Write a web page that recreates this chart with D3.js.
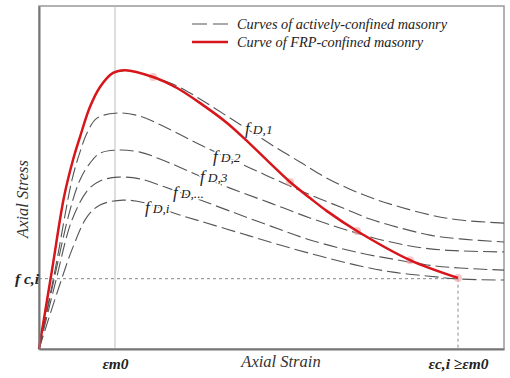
<!DOCTYPE html>
<html>
<head>
<meta charset="utf-8">
<script src="https://cdn.jsdelivr.net/npm/d3@7"></script>
<style>
  body { margin: 0; background: #fff; }
  svg { display: block; }
  svg text { font-family: "Liberation Serif", "Times New Roman", serif; }
  .axis-label { font-style: italic; font-size: 16.5px; fill: #333; }
  .tick-label { font-style: italic; font-weight: bold; font-size: 15.5px; fill: #222; }
  .curve-label { font-style: italic; fill: #222; stroke: #fff; stroke-width: 3px; paint-order: stroke; }
  .legend-text { font-style: italic; font-size: 14.3px; fill: #222; }
</style>
</head>
<body>
<svg id="chart"></svg>
<script>
// strain is given in multiples of eps_m0, stress as a fraction of the plotted height
const strainMax = 6.118;
const stressMax = 1;

const xTickValues = [1, 5.513];
const xTickLabels = ['\u03B5m0', '\u03B5c,i \u2265\u03B5m0'];
const yTickValues = [0.205];
const yTickLabels = ['f c,i'];

// FRP-confined curve (strain, stress)
const frpCurve = [
  [0, 0], [0.171, 0.230], [0.329, 0.443], [0.447, 0.551], [0.539, 0.618],
  [0.671, 0.706], [0.803, 0.764], [0.974, 0.805], [1.132, 0.813], [1.500, 0.793],
  [1.816, 0.761], [2.158, 0.711], [2.474, 0.659], [2.776, 0.598], [3.039, 0.542],
  [3.303, 0.487], [3.566, 0.440], [3.789, 0.402], [4.184, 0.344], [4.882, 0.259],
  [5.513, 0.207]
];
// points where the FRP curve passes onto the next active curve
const transitionPoints = [[1.500, 0.793], [3.303, 0.487], [4.184, 0.344], [4.882, 0.259], [5.513, 0.207]];

// actively-confined curves
const curveD1 = [
  [0, 0], [0.171, 0.230], [0.329, 0.443], [0.447, 0.551], [0.539, 0.618],
  [0.671, 0.706], [0.803, 0.764], [0.974, 0.805], [1.132, 0.813], [1.500, 0.793],
  [1.816, 0.767], [2.118, 0.729], [2.474, 0.679], [2.776, 0.636], [3.105, 0.589],
  [3.434, 0.545], [3.763, 0.501], [4.092, 0.466], [4.421, 0.437], [4.750, 0.414],
  [5.145, 0.391], [5.539, 0.376], [6.118, 0.367]
];
const curveD2 = [
  [0, 0], [0.211, 0.230], [0.434, 0.493], [0.539, 0.574], [0.632, 0.630],
  [0.763, 0.673], [1.039, 0.688], [1.329, 0.679], [1.658, 0.647], [2.026, 0.606],
  [2.382, 0.568], [2.776, 0.528], [3.211, 0.484], [3.605, 0.446], [4.000, 0.411],
  [4.355, 0.379], [4.750, 0.353], [5.145, 0.332], [5.539, 0.321], [6.118, 0.312]
];
const curveD3 = [
  [0, 0], [0.211, 0.216], [0.408, 0.405], [0.539, 0.493], [0.671, 0.542],
  [0.803, 0.571], [1.039, 0.580], [1.329, 0.574], [1.658, 0.548], [2.053, 0.510],
  [2.513, 0.469], [3.039, 0.426], [3.566, 0.382], [3.961, 0.353], [4.355, 0.327],
  [4.750, 0.306], [5.145, 0.292], [5.539, 0.286], [6.118, 0.283]
];
const curveDn = [
  [0, 0], [0.224, 0.201], [0.434, 0.376], [0.645, 0.464], [0.803, 0.490],
  [1.039, 0.501], [1.329, 0.496], [1.658, 0.472], [2.053, 0.440], [2.513, 0.402],
  [3.039, 0.359], [3.566, 0.318], [4.224, 0.280], [4.658, 0.262], [5.105, 0.245],
  [5.539, 0.236], [6.118, 0.230]
];
const curveDi = [
  [0, 0], [0.250, 0.172], [0.447, 0.297], [0.632, 0.385], [0.803, 0.420],
  [1.105, 0.434], [1.395, 0.426], [1.763, 0.397], [2.118, 0.373], [2.645, 0.338],
  [3.171, 0.303], [3.697, 0.271], [4.224, 0.242], [4.658, 0.224], [5.105, 0.213],
  [5.539, 0.204], [6.118, 0.201]
];
const activeCurves = [curveD1, curveD2, curveD3, curveDn, curveDi];
const curveSubscripts = ['D,1', 'D,2', 'D,3', 'D,...', 'D,i'];
const labelAnchors = [[2.711, 0.627], [2.289, 0.545], [2.118, 0.487], [1.763, 0.440], [1.395, 0.397]];

const legendLabels = ['Curves of actively-confined masonry', 'Curve of FRP-confined masonry'];

const config = {
  width: 510, height: 378,
  margin: {top: 6, right: 6, bottom: 29, left: 39},
  red: '#d7161c',
  gray: '#555'
};

const innerW = config.width - config.margin.left - config.margin.right;
const innerH = config.height - config.margin.top - config.margin.bottom;

const svg = d3.select('#chart')
    .attr('width', config.width)
    .attr('height', config.height);

const chart = svg.append('g')
    .attr('transform', `translate(${config.margin.left},${config.margin.top})`);

const xScale = d3.scaleLinear().domain([0, strainMax]).range([0, innerW]);
const yScale = d3.scaleLinear().domain([0, stressMax]).range([innerH, 0]);

const line = d3.line()
    .x(d => xScale(d[0]))
    .y(d => yScale(d[1]))
    .curve(d3.curveCatmullRom.alpha(0.5));

// frame
chart.append('rect')
    .attr('width', innerW)
    .attr('height', innerH)
    .attr('fill', 'none')
    .attr('stroke', '#999')
    .attr('stroke-width', 1.5);

// eps_m0 reference line
chart.append('line')
    .attr('x1', xScale(xTickValues[0])).attr('x2', xScale(xTickValues[0]))
    .attr('y1', 0).attr('y2', innerH)
    .attr('stroke', '#bdbdbd')
    .attr('stroke-width', 1);

// fc,i and eps_c,i guide lines
chart.append('line')
    .attr('x1', 0).attr('x2', xScale(xTickValues[1]))
    .attr('y1', yScale(yTickValues[0])).attr('y2', yScale(yTickValues[0]))
    .attr('stroke', '#888')
    .attr('stroke-dasharray', '3,3');

chart.append('line')
    .attr('x1', xScale(xTickValues[1])).attr('x2', xScale(xTickValues[1]))
    .attr('y1', yScale(yTickValues[0])).attr('y2', innerH)
    .attr('stroke', '#888')
    .attr('stroke-dasharray', '3,3');

// active curves
chart.selectAll('.active-curve')
    .data(activeCurves)
  .join('path')
    .attr('class', 'active-curve')
    .attr('d', line)
    .attr('fill', 'none')
    .attr('stroke', config.gray)
    .attr('stroke-width', 1.1)
    .attr('stroke-dasharray', '14,5');

// curve labels
const labels = chart.selectAll('.curve-label')
    .data(curveSubscripts)
  .join('text')
    .attr('class', 'curve-label')
    .attr('x', (d, i) => xScale(labelAnchors[i][0]))
    .attr('y', (d, i) => yScale(labelAnchors[i][1]));

labels.append('tspan').attr('font-size', '17px').text('f');
labels.append('tspan').attr('font-size', '13.5px').attr('dx', 3).text(d => d);

// transition markers
chart.selectAll('.marker')
    .data(transitionPoints)
  .join('circle')
    .attr('class', 'marker')
    .attr('cx', d => xScale(d[0]))
    .attr('cy', d => yScale(d[1]))
    .attr('r', 4)
    .attr('fill', '#f2a3a3')
    .attr('opacity', 0.6);

// FRP curve
chart.append('path')
    .datum(frpCurve)
    .attr('d', line)
    .attr('fill', 'none')
    .attr('stroke', config.red)
    .attr('stroke-width', 2.5);

// axes
const xAxis = d3.axisBottom(xScale)
    .tickValues(xTickValues)
    .tickFormat((d, i) => xTickLabels[i])
    .tickSize(0)
    .tickPadding(9);

const yAxis = d3.axisLeft(yScale)
    .tickValues(yTickValues)
    .tickFormat((d, i) => yTickLabels[i])
    .tickSize(0)
    .tickPadding(0);

chart.append('g')
    .attr('class', 'axis x-axis')
    .attr('transform', `translate(0,${innerH})`)
    .call(xAxis);

chart.append('g')
    .attr('class', 'axis y-axis')
    .call(yAxis);

chart.selectAll('.axis')
    .attr('font-family', null)
    .attr('font-size', null);
chart.selectAll('.axis .domain')
    .attr('stroke', '#777')
    .attr('stroke-width', 2);
chart.selectAll('.axis text').attr('class', 'tick-label');

// axis titles
chart.append('text')
    .attr('class', 'axis-label')
    .attr('x', 242)
    .attr('y', innerH + 18)
    .attr('text-anchor', 'middle')
    .text('Axial Strain');

chart.append('text')
    .attr('class', 'axis-label')
    .attr('transform', 'rotate(-90)')
    .attr('x', -193)
    .attr('y', -11)
    .attr('text-anchor', 'middle')
    .text('Axial Stress');

// legend
const legend = svg.append('g')
    .attr('transform', 'translate(192,24)');

legend.selectAll('line')
    .data(legendLabels)
  .join('line')
    .attr('x1', 0).attr('x2', 36)
    .attr('y1', (d, i) => i * 18).attr('y2', (d, i) => i * 18)
    .attr('stroke', (d, i) => i === 0 ? config.gray : config.red)
    .attr('stroke-width', (d, i) => i === 0 ? 1.1 : 2.5)
    .attr('stroke-dasharray', (d, i) => i === 0 ? '15,6' : null);

legend.selectAll('text')
    .data(legendLabels)
  .join('text')
    .attr('class', 'legend-text')
    .attr('x', 45)
    .attr('y', (d, i) => i * 18 + 4.5)
    .text(d => d);
</script>
</body>
</html>
